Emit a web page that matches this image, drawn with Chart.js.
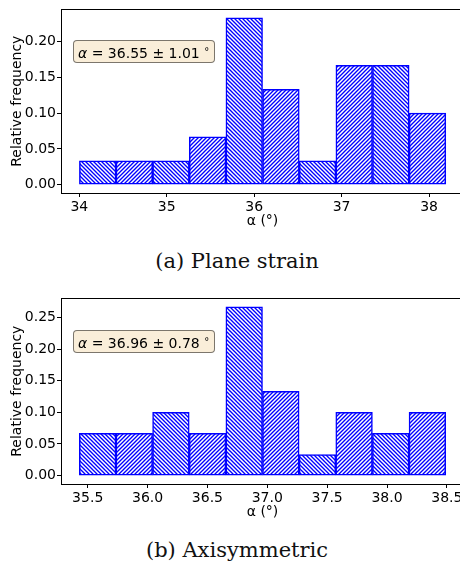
<!DOCTYPE html>
<html lang="en">
<head>
  <meta charset="UTF-8" />
  <title>Alpha histograms</title>
  <script src="https://cdn.jsdelivr.net/npm/chart.js@4"></script>
<style>
  html, body {
    margin: 0;
    padding: 0;
    background: #fff;
    overflow: hidden;
    width: 460px;
    height: 563px;
  }
  .wrap { position: relative; width: 460px; height: 563px; }
  canvas { position: absolute; left: 0; }
  #psChart { top: 0; }
  #axChart { top: 289px; }
  .stats {
    position: absolute;
    left: 73px;
    width: 136px;
    height: 21px;
    line-height: 21px;
    padding-left: 4px;
    font-family: 'DejaVu Sans', sans-serif;
    font-size: 14px;
    color: #000;
    background: rgba(245, 222, 179, 0.5);
    border: 1px solid rgba(0, 0, 0, 0.5);
    border-radius: 4px;
    white-space: nowrap;
  }
  .stats sup { font-size: 10px; vertical-align: 3px; }
  .caption {
    position: absolute;
    left: 87px;
    width: 300px;
    text-align: center;
    font-family: 'DejaVu Serif', serif;
    font-size: 21px;
    line-height: 24px;
    color: #111;
  }
</style>
</head>
<body>
  <div class="wrap">
    <canvas id="psChart" width="470" height="230"></canvas>
    <canvas id="axChart" width="470" height="232"></canvas>
    <div class="stats" style="top: 40px;"><i>α</i> = 36.55 ± 1.01 <sup>°</sup></div>
    <div class="stats" style="top: 330px;"><i>α</i> = 36.96 ± 0.78 <sup>°</sup></div>
    <div class="caption" style="top: 249px;">(a) Plane strain</div>
    <div class="caption" style="top: 538px;">(b) Axisymmetric</div>
  </div>

<script>
  // (a) plane strain: bin centres and relative frequency
  const psCenters = [34.210, 34.629, 35.048, 35.467, 35.886, 36.306, 36.725, 37.144, 37.563, 37.982];
  const psFreq = [0.0333, 0.0333, 0.0333, 0.0667, 0.2333, 0.1333, 0.0333, 0.1667, 0.1667, 0.1000];
  const psXTicks = [34, 35, 36, 37, 38];
  const psYTicks = [0, 0.05, 0.10, 0.15, 0.20];

  // (b) axisymmetric
  const axCenters = [35.583, 35.889, 36.195, 36.501, 36.807, 37.113, 37.419, 37.725, 38.031, 38.337];
  const axFreq = [0.0667, 0.0667, 0.1000, 0.0667, 0.2667, 0.1333, 0.0333, 0.1000, 0.0667, 0.1000];
  const axXTicks = [35.5, 36.0, 36.5, 37.0, 37.5, 38.0, 38.5];
  const axYTicks = [0, 0.05, 0.10, 0.15, 0.20, 0.25];

  // hatch tiles, alternating \\ and //
  function makeHatch(back) {
    const c = document.createElement('canvas');
    c.width = 4; c.height = 4;
    const g = c.getContext('2d');
    g.fillStyle = '#fff';
    g.fillRect(0, 0, 4, 4);
    g.strokeStyle = '#0000ff';
    g.lineWidth = 1.35;
    g.beginPath();
    if (back) {
      g.moveTo(-1, -1); g.lineTo(5, 5);
      g.moveTo(-1, 3); g.lineTo(1, 5);
      g.moveTo(3, -1); g.lineTo(5, 1);
    } else {
      g.moveTo(-1, 5); g.lineTo(5, -1);
      g.moveTo(-1, 1); g.lineTo(1, -1);
      g.moveTo(3, 5); g.lineTo(5, 3);
    }
    g.stroke();
    return g.createPattern(c, 'repeat');
  }
  const hatchBack = makeHatch(true);
  const hatchFwd = makeHatch(false);

  // box round the plot area (top spine)
  const frame = {
    id: 'frame',
    afterDraw(chart) {
      const { ctx, chartArea: a } = chart;
      ctx.save();
      ctx.strokeStyle = '#000';
      ctx.lineWidth = 1;
      ctx.strokeRect(Math.round(a.left) + 0.5, Math.round(a.top) + 0.5,
                     Math.round(a.right - a.left), Math.round(a.bottom - a.top));
      ctx.restore();
    }
  };

  function renderHist(id, centers, freq, xTicks, yTicks, xMin, xMax, yMin, yMax, xDec) {
    const font = { family: 'DejaVu Sans', size: 14 };
    new Chart(document.getElementById(id).getContext('2d'), {
      type: 'bar',
      data: {
        datasets: [{
          data: centers.map((x, i) => ({ x: x, y: freq[i] })),
          backgroundColor: centers.map((x, i) => i % 2 === 0 ? hatchBack : hatchFwd),
          borderColor: '#0000ff',
          borderWidth: 1.5,
          borderSkipped: false,
          barPercentage: 1,
          categoryPercentage: 1
        }]
      },
      options: {
        responsive: false,
        animation: false,
        devicePixelRatio: 1,
        layout: { padding: { top: 8, right: 6, bottom: 0, left: 0 } },
        plugins: { legend: { display: false }, tooltip: { enabled: false } },
        scales: {
          x: {
            type: 'linear',
            offset: false,
            min: xMin,
            max: xMax,
            afterFit: s => { s.height = 37; },
            afterBuildTicks: s => { s.ticks = xTicks.map(v => ({ value: v })); },
            ticks: {
              autoSkip: false, maxRotation: 0, padding: 2,
              color: '#000', font: font,
              callback: v => Number(v).toFixed(xDec)
            },
            grid: { display: true, offset: false, drawOnChartArea: false, drawTicks: true, tickLength: 4, tickColor: '#000' },
            border: { display: true, color: '#000', width: 1 },
            title: { display: true, text: 'α (°)', color: '#000', font: font, padding: 0 }
          },
          y: {
            min: yMin,
            max: yMax,
            afterFit: s => { s.width = 61; },
            afterBuildTicks: s => { s.ticks = yTicks.map(v => ({ value: v })); },
            ticks: {
              autoSkip: false, padding: 1,
              color: '#000', font: font,
              callback: v => Number(v).toFixed(2)
            },
            grid: { display: true, drawOnChartArea: false, drawTicks: true, tickLength: 4, tickColor: '#000' },
            border: { display: true, color: '#000', width: 1 },
            title: { display: true, text: 'Relative frequency', color: '#000', font: font, padding: { top: 9, bottom: 0 } }
          }
        }
      },
      plugins: [frame]
    });
  }

  renderHist('psChart', psCenters, psFreq, psXTicks, psYTicks, 33.79, 38.40, -0.0117, 0.245, 0);
  renderHist('axChart', axCenters, axFreq, axXTicks, axYTicks, 35.277, 38.643, -0.0133, 0.28, 1);
</script>
</body>
</html>
